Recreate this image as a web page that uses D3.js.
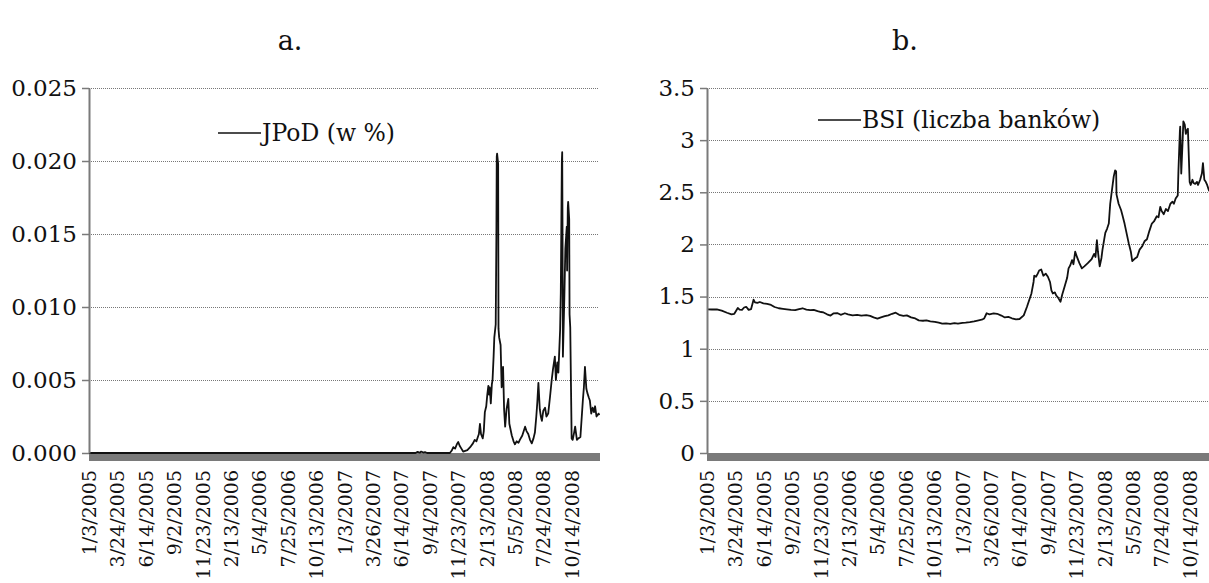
<!DOCTYPE html>
<html>
<head>
<meta charset="utf-8">
<script src="https://cdn.jsdelivr.net/npm/d3@7"></script>
<style>
  body { margin: 0; background: #fff; }
  svg { display: block; font-family: "DejaVu Serif", "Liberation Serif", serif; }
</style>
</head>
<body>
<div id="wrapper"></div>
<script>
// tick labels on the category axis
const tickDates = ["1/3/2005", "3/24/2005", "6/14/2005", "9/2/2005", "11/23/2005",
    "2/13/2006", "5/4/2006", "7/25/2006", "10/13/2006", "1/3/2007", "3/26/2007",
    "6/14/2007", "9/4/2007", "11/23/2007", "2/13/2008", "5/5/2008", "7/24/2008", "10/14/2008"]

// panel a: JPoD (w %)
const jpodDates = ["1/3/2005", "7/25/2007", "7/31/2007", "8/6/2007", "8/10/2007", "8/16/2007",
    "8/21/2007", "8/27/2007", "10/31/2007", "11/5/2007", "11/10/2007", "11/15/2007", "11/20/2007",
    "11/24/2007", "11/28/2007", "12/3/2007", "12/8/2007", "12/14/2007", "12/20/2007", "12/28/2007",
    "1/5/2008", "1/10/2008", "1/15/2008", "1/19/2008", "1/22/2008", "1/25/2008", "1/28/2008",
    "2/2/2008", "2/5/2008", "2/8/2008", "2/12/2008", "2/15/2008", "2/18/2008", "2/20/2008",
    "2/22/2008", "2/25/2008", "2/28/2008", "3/1/2008", "3/4/2008", "3/6/2008", "3/10/2008",
    "3/12/2008", "3/13/2008", "3/14/2008", "3/17/2008", "3/18/2008", "3/20/2008", "3/24/2008",
    "3/27/2008", "3/31/2008", "4/3/2008", "4/6/2008", "4/10/2008", "4/15/2008", "4/18/2008",
    "4/25/2008", "4/30/2008", "5/4/2008", "5/9/2008", "5/14/2008", "5/18/2008", "5/25/2008",
    "6/2/2008", "6/6/2008", "6/11/2008", "6/16/2008", "6/21/2008", "6/26/2008", "6/30/2008",
    "7/4/2008", "7/7/2008", "7/10/2008", "7/14/2008", "7/17/2008", "7/20/2008", "7/24/2008",
    "7/29/2008", "8/2/2008", "8/7/2008", "8/12/2008", "8/17/2008", "8/21/2008", "8/26/2008",
    "8/29/2008", "9/2/2008", "9/5/2008", "9/10/2008", "9/12/2008", "9/15/2008", "9/16/2008",
    "9/17/2008", "9/18/2008", "9/22/2008", "9/25/2008", "9/29/2008", "9/30/2008", "10/2/2008",
    "10/3/2008", "10/6/2008", "10/7/2008", "10/9/2008", "10/13/2008", "10/16/2008", "10/20/2008",
    "10/23/2008", "10/28/2008", "11/1/2008", "11/7/2008", "11/14/2008", "11/17/2008", "11/20/2008",
    "11/24/2008", "11/27/2008", "12/1/2008", "12/4/2008", "12/8/2008", "12/12/2008", "12/16/2008",
    "12/19/2008", "12/23/2008", "12/29/2008", "12/31/2008"]
const jpodValues = [0, 0, 0.00008, 0.00002, 0.0001, 0.00003,
    0.00006, 0, 0, 0.00015, 0.0004, 0.0003, 0.0006,
    0.00075, 0.0005, 0.0003, 0.0001, 0.00015, 0.0002, 0.0004,
    0.00066, 0.0009, 0.0008, 0.0011, 0.0013, 0.002, 0.0013,
    0.001, 0.0015, 0.0028, 0.0032, 0.004, 0.0046, 0.004,
    0.0045, 0.0034, 0.0047, 0.005, 0.0066, 0.0079, 0.0088,
    0.015, 0.0203, 0.0205, 0.0198, 0.0085, 0.0079, 0.0074,
    0.0045, 0.0059, 0.003, 0.0018, 0.003, 0.0037, 0.002,
    0.0012, 0.0008, 0.0006, 0.0008, 0.0007, 0.0009, 0.0012,
    0.0018, 0.0015, 0.0013, 0.0009, 0.00066, 0.001, 0.0014,
    0.0025, 0.0035, 0.0048, 0.003, 0.0025, 0.0022, 0.0029,
    0.0031, 0.0025, 0.0027, 0.0038, 0.005, 0.0058, 0.0066,
    0.005, 0.0062, 0.0055, 0.0084, 0.011, 0.02, 0.0206,
    0.015, 0.0066, 0.0105, 0.014, 0.0155, 0.0125, 0.0168,
    0.0172, 0.016, 0.0095, 0.0086, 0.001, 0.0009, 0.0014,
    0.0018, 0.0009, 0.001, 0.0011, 0.0036, 0.0045, 0.0059,
    0.0044, 0.0041, 0.0038, 0.0036, 0.0027, 0.0031, 0.0028,
    0.0032, 0.0025, 0.0027, 0.0026]

// panel b: BSI (liczba banków)
const bsiDates = ["1/3/2005", "1/17/2005", "1/31/2005", "2/14/2005", "3/1/2005", "3/14/2005",
    "3/22/2005", "4/1/2005", "4/6/2005", "4/13/2005", "4/19/2005", "4/25/2005", "5/2/2005",
    "5/9/2005", "5/16/2005", "5/20/2005", "5/27/2005", "6/3/2005", "6/13/2005", "6/24/2005",
    "7/5/2005", "7/15/2005", "7/27/2005", "8/8/2005", "8/19/2005", "8/31/2005", "9/12/2005",
    "9/23/2005", "10/3/2005", "10/14/2005", "10/25/2005", "11/4/2005", "11/15/2005", "11/25/2005",
    "12/2/2005", "12/12/2005", "12/22/2005", "12/30/2005", "1/10/2006", "1/20/2006", "2/1/2006",
    "2/10/2006", "2/23/2006", "3/8/2006", "3/20/2006", "4/3/2006", "4/14/2006", "4/24/2006",
    "5/5/2006", "5/15/2006", "5/26/2006", "6/5/2006", "6/16/2006", "6/26/2006", "7/6/2006",
    "7/18/2006", "7/28/2006", "8/9/2006", "8/21/2006", "8/31/2006", "9/12/2006", "9/22/2006",
    "10/3/2006", "10/16/2006", "10/27/2006", "11/6/2006", "11/17/2006", "11/29/2006", "12/11/2006",
    "12/21/2006", "1/3/2007", "1/12/2007", "1/24/2007", "2/5/2007", "2/15/2007", "2/27/2007",
    "3/6/2007", "3/13/2007", "3/21/2007", "4/2/2007", "4/12/2007", "4/24/2007", "5/4/2007",
    "5/14/2007", "5/24/2007", "6/5/2007", "6/15/2007", "6/27/2007", "7/6/2007", "7/12/2007",
    "7/19/2007", "7/25/2007", "7/27/2007", "8/1/2007", "8/6/2007", "8/10/2007", "8/16/2007",
    "8/22/2007", "8/29/2007", "9/4/2007", "9/10/2007", "9/14/2007", "9/18/2007", "9/24/2007",
    "9/28/2007", "10/3/2007", "10/10/2007", "10/15/2007", "10/22/2007", "10/29/2007", "11/2/2007",
    "11/7/2007", "11/12/2007", "11/16/2007", "11/21/2007", "11/26/2007", "12/3/2007", "12/10/2007",
    "12/17/2007", "12/27/2007", "1/7/2008", "1/14/2008", "1/18/2008", "1/22/2008", "1/25/2008",
    "1/30/2008", "2/4/2008", "2/7/2008", "2/12/2008", "2/15/2008", "2/20/2008", "2/25/2008",
    "2/29/2008", "3/5/2008", "3/10/2008", "3/14/2008", "3/17/2008", "3/18/2008", "3/24/2008",
    "3/31/2008", "4/4/2008", "4/10/2008", "4/15/2008", "4/22/2008", "4/28/2008", "5/2/2008",
    "5/8/2008", "5/16/2008", "5/23/2008", "5/30/2008", "6/6/2008", "6/13/2008", "6/20/2008",
    "6/27/2008", "7/3/2008", "7/11/2008", "7/16/2008", "7/21/2008", "7/25/2008", "7/31/2008",
    "8/6/2008", "8/12/2008", "8/19/2008", "8/25/2008", "8/29/2008", "9/3/2008", "9/9/2008",
    "9/11/2008", "9/15/2008", "9/16/2008", "9/19/2008", "9/23/2008", "9/25/2008", "9/29/2008",
    "10/2/2008", "10/6/2008", "10/8/2008", "10/13/2008", "10/16/2008", "10/21/2008", "10/24/2008",
    "10/29/2008", "11/3/2008", "11/6/2008", "11/12/2008", "11/17/2008", "11/20/2008", "11/24/2008",
    "11/28/2008", "12/2/2008", "12/5/2008", "12/8/2008"]
const bsiValues = [1.378, 1.376, 1.378, 1.365, 1.345, 1.33,
    1.335, 1.39, 1.375, 1.372, 1.395, 1.402, 1.372,
    1.38, 1.47, 1.445, 1.44, 1.448, 1.435, 1.43,
    1.42, 1.4, 1.388, 1.383, 1.378, 1.372, 1.37,
    1.38, 1.388, 1.375, 1.37, 1.372, 1.36, 1.352,
    1.348, 1.33, 1.318, 1.338, 1.342, 1.325, 1.34,
    1.33, 1.32, 1.325, 1.318, 1.322, 1.315, 1.3,
    1.288, 1.3, 1.312, 1.32, 1.335, 1.345, 1.325,
    1.315, 1.32, 1.3, 1.29, 1.272, 1.268, 1.272,
    1.262, 1.258, 1.25, 1.24, 1.242, 1.238, 1.246,
    1.24, 1.248, 1.25, 1.255, 1.262, 1.27, 1.278,
    1.29, 1.34, 1.33, 1.338, 1.335, 1.318, 1.3,
    1.305, 1.292, 1.282, 1.285, 1.32, 1.4, 1.46,
    1.53, 1.64, 1.7, 1.69, 1.72, 1.75, 1.76,
    1.7, 1.72, 1.69, 1.64, 1.56, 1.53, 1.54,
    1.51, 1.49, 1.45, 1.52, 1.6, 1.68, 1.77,
    1.8, 1.85, 1.81, 1.93, 1.88, 1.82, 1.77,
    1.79, 1.82, 1.86, 1.91, 1.88, 2.04, 1.93,
    1.79, 1.87, 1.95, 2.05, 2.11, 2.15, 2.2,
    2.39, 2.52, 2.65, 2.71, 2.7, 2.48, 2.39,
    2.33, 2.28, 2.2, 2.12, 2.01, 1.93, 1.84,
    1.86, 1.88, 1.95, 1.98, 2.03, 2.05, 2.13,
    2.2, 2.22, 2.27, 2.26, 2.36, 2.32, 2.29,
    2.34, 2.32, 2.39, 2.41, 2.39, 2.44, 2.47,
    2.71, 3.08, 3.13, 2.68, 3.0, 3.18, 3.15,
    3.06, 3.1, 3.11, 2.6, 2.57, 2.62, 2.59,
    2.58, 2.6, 2.57, 2.62, 2.68, 2.78, 2.62,
    2.6, 2.57, 2.54, 2.51]

const jpodTicks = [0, 0.005, 0.010, 0.015, 0.020, 0.025]
const bsiTicks = [0, 0.5, 1, 1.5, 2, 2.5, 3, 3.5]

const parseDate = d3.timeParse("%m/%d/%Y")
const formatDate = d3.timeFormat("%-m/%-d/%Y")

const width = 1209
const height = 583

const svg = d3.select("#wrapper")
    .append("svg")
        .attr("width", width)
        .attr("height", height)

svg.append("rect")
    .attr("width", width)
    .attr("height", height)
    .attr("fill", "#fff")

function drawPanel(opts) {
    const dims = {
        left: opts.left,
        top: 88,
        boundedWidth: 511,
        boundedHeight: 365,
    }
    const points = opts.dates.map((d, i) => ({ date: parseDate(d), value: opts.values[i] }))

    const xScale = d3.scaleTime()
        .domain([parseDate("1/3/2005"), parseDate("1/2/2009")])
        .range([0, dims.boundedWidth])
    const yScale = d3.scaleLinear()
        .domain([0, opts.yMax])
        .range([dims.boundedHeight, 0])

    const bounds = svg.append("g")
        .attr("transform", `translate(${dims.left},${dims.top})`)

    // title
    svg.append("text")
        .attr("x", opts.titleX)
        .attr("y", 50)
        .attr("text-anchor", "middle")
        .attr("font-size", 27)
        .attr("fill", "#111")
        .text(opts.title)

    // dotted gridlines
    bounds.append("g")
        .selectAll("line")
        .data(opts.yTicks.filter(t => t > 0))
        .join("line")
            .attr("x1", 0)
            .attr("x2", dims.boundedWidth - 2)
            .attr("y1", d => Math.round(yScale(d)) + 0.5)
            .attr("y2", d => Math.round(yScale(d)) + 0.5)
            .attr("stroke", "#777")
            .attr("stroke-width", 1)
            .attr("stroke-dasharray", "1,1")

    // thick grey category axis band
    bounds.append("rect")
        .attr("x", 0)
        .attr("y", yScale(0))
        .attr("width", dims.boundedWidth)
        .attr("height", 8)
        .attr("fill", "#7a7a7a")

    // series line
    const lineGenerator = d3.line()
        .x(d => xScale(d.date))
        .y(d => yScale(d.value))
    bounds.append("path")
        .attr("d", lineGenerator(points))
        .attr("fill", "none")
        .attr("stroke", "#111")
        .attr("stroke-width", 1.8)
        .attr("stroke-linejoin", "round")

    // y axis
    const yAxisGenerator = d3.axisLeft(yScale)
        .tickValues(opts.yTicks)
        .tickFormat(opts.yFormat)
        .tickSizeInner(7)
        .tickSizeOuter(0)
        .tickPadding(5)
    const yAxis = bounds.append("g")
        .call(yAxisGenerator)
        .attr("font-family", null)
        .attr("font-size", null)
    yAxis.select(".domain")
        .attr("stroke", "#7a7a7a")
        .attr("stroke-width", 2)
    yAxis.selectAll(".tick line")
        .attr("stroke", "#7a7a7a")
        .attr("stroke-width", 1.5)
    yAxis.selectAll(".tick text")
        .attr("font-size", 23)
        .attr("fill", "#111")

    // x axis labels, rotated
    const xAxisGenerator = d3.axisBottom(xScale)
        .tickValues(tickDates.map(parseDate))
        .tickFormat(formatDate)
        .tickSize(0)
    const xAxis = bounds.append("g")
        .attr("transform", `translate(0,${dims.boundedHeight})`)
        .call(xAxisGenerator)
        .attr("font-family", null)
        .attr("font-size", null)
    xAxis.select(".domain").remove()
    xAxis.selectAll(".tick text")
        .attr("font-size", 19)
        .attr("fill", "#111")
        .attr("text-anchor", "end")
        .attr("transform", "translate(0,17) rotate(-90)")
        .attr("x", 0)
        .attr("y", 0)
        .attr("dy", "0.35em")

    // legend
    const legend = svg.append("g")
    legend.append("line")
        .attr("x1", opts.legendX)
        .attr("x2", opts.legendX + 43)
        .attr("y1", opts.legendY)
        .attr("y2", opts.legendY)
        .attr("stroke", "#111")
        .attr("stroke-width", 1.6)
    legend.append("text")
        .attr("x", opts.legendX + 44)
        .attr("y", opts.legendY)
        .attr("dy", "0.35em")
        .attr("font-size", 23.5)
        .attr("fill", "#111")
        .text(opts.legend)
}

drawPanel({
    left: 89,
    title: "a.",
    titleX: 290,
    dates: jpodDates,
    values: jpodValues,
    yMax: 0.025,
    yTicks: jpodTicks,
    yFormat: d3.format(".3f"),
    legend: "JPoD (w %)",
    legendX: 218,
    legendY: 133,
})

drawPanel({
    left: 707,
    title: "b.",
    titleX: 905,
    dates: bsiDates,
    values: bsiValues,
    yMax: 3.5,
    yTicks: bsiTicks,
    yFormat: d => d3.format("")(d),
    legend: "BSI (liczba banków)",
    legendX: 818,
    legendY: 120,
})
</script>
</body>
</html>
